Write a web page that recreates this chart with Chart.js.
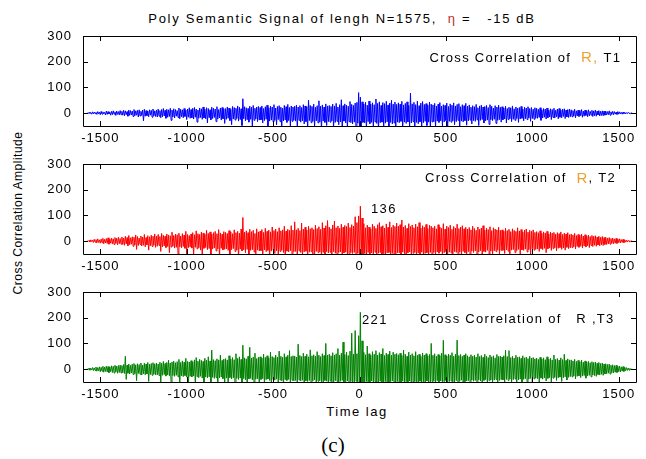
<!DOCTYPE html>
<html>
<head>
<meta charset="utf-8">
<title>Cross Correlation</title>
<script src="https://cdn.jsdelivr.net/npm/chart.js@4.4.1/dist/chart.umd.min.js"></script>
<style>
    body {
        margin: 0;
        width: 646px;
        height: 459px;
        position: relative;
        overflow: hidden;
        background: #fff;
        font-family: 'Liberation Sans', Arial, sans-serif;
        color: #000;
    }
    .panel { position: absolute; left: 0; }
    .txt { position: absolute; white-space: pre; line-height: 14px; }
    #title { left: 342px; top: 12px; font-size: 13px; letter-spacing: 1.7px; transform: translateX(-50%); }
    #title .eta { color: #c0302a; }
    #ylabel { left: 18px; top: 213px; font-size: 12px; letter-spacing: 0.5px; transform: translate(-50%, -50%) rotate(-90deg); }
    #xlabel { left: 357px; top: 405px; font-size: 13px; letter-spacing: 1.5px; transform: translateX(-50%); }
    #caption { left: 333px; top: 433px; font-size: 21px; line-height: 24px; font-family: 'Liberation Serif', 'Times New Roman', serif; transform: translateX(-50%); }
</style>
</head>
<body>

<div id="title" class="txt">Poly Semantic Signal of lengh N=1575,  <span class="eta">η</span> =   -15 dB</div>
<div id="ylabel" class="txt">Cross Correlation Amplitude</div>
<div id="xlabel" class="txt">Time lag</div>
<div id="caption" class="txt">(c)</div>

<canvas id="chart1" class="panel" width="646" height="150" style="top:0px"></canvas>
<canvas id="chart2" class="panel" width="646" height="150" style="top:128px"></canvas>
<canvas id="chart3" class="panel" width="646" height="150" style="top:256px"></canvas>

<script>
// Lag bins (step 10). Each bin holds the top and the bottom reading of the trace in it.
const lags = Array.from({length: 316}, (_, i) => -1575 + i * 10);

const xTicks = [-1500, -1000, -500, 0, 500, 1000, 1500];
const yTicks = [0, 100, 200, 300];

// T1 (blue)
const t1High = [
    1, 3, 2, 5, 4, 3, 6, 4, 7, 5, 3, 8, 6, 4, 7, 9, 5, 8, 6, 10,
    7, 11, 9, 6, 12, 10, 8, 14, 9, 11, 13, 7, 12, 15, 10, 8, 13, 11, 16, 9,
    12, 16, 10, 14, 18, 11, 15, 13, 19, 12, 17, 14, 10, 20, 15, 13, 18, 12, 16, 21,
    14, 19, 22, 16, 12, 20, 17, 24, 15, 21, 18, 13, 23, 19, 16, 25, 14, 20, 22, 17,
    18, 24, 20, 15, 26, 22, 19, 28, 23, 17, 56, 25, 21, 18, 27, 23, 30, 19, 24, 26,
    22, 28, 18, 25, 31, 21, 27, 24, 33, 20, 26, 29, 23, 19, 30, 25, 34, 22, 28, 24,
    27, 31, 24, 29, 22, 33, 28, 25, 50, 30, 26, 35, 23, 29, 48, 27, 32, 24, 36, 28,
    30, 26, 35, 28, 38, 24, 33, 52, 29, 36, 31, 27, 45, 34, 30, 39, 42, 80, 62, 44,
    36, 42, 31, 47, 35, 40, 33, 55, 38, 44, 30, 41, 37, 46, 32, 39, 50, 35, 43, 34,
    40, 35, 46, 32, 38, 44, 30, 78, 36, 42, 33, 47, 29, 39, 45, 34, 37, 31, 43, 35,
    32, 38, 28, 35, 41, 27, 33, 30, 39, 26, 36, 31, 40, 28, 34, 37, 25, 33, 29, 38,
    27, 32, 23, 29, 25, 34, 21, 28, 31, 24, 26, 30, 22, 33, 27, 20, 29, 24, 31, 23,
    25, 20, 27, 18, 23, 21, 28, 17, 24, 19, 22, 26, 16, 23, 20, 25, 18, 22, 15, 21,
    19, 15, 21, 13, 18, 16, 20, 12, 17, 14, 19, 11, 16, 18, 13, 15, 17, 12, 14, 16,
    13, 10, 15, 9, 12, 11, 14, 8, 12, 10, 13, 7, 11, 9, 12, 8, 10, 7, 9, 8,
    8, 6, 9, 5, 7, 6, 4, 6, 5, 3, 4, 3, 2, 3, 1, 1
];
const t1Low = [
    -2, -1, -4, -3, -2, -5, -3, -6, -4, -2, -7, -5, -3, -8, -6, -4, -9, -5, -7, -6,
    -8, -10, -6, -12, -9, -7, -13, -10, -8, -15, -11, -9, -30, -12, -10, -14, -8, -16, -11, -13,
    -15, -12, -18, -14, -11, -20, -16, -13, -28, -15, -19, -12, -17, -22, -14, -18, -13, -25, -16, -20,
    -18, -23, -16, -35, -20, -17, -24, -19, -22, -38, -18, -26, -21, -17, -33, -23, -19, -27, -22, -40,
    -24, -20, -29, -45, -23, -27, -21, -31, -25, -48, -22, -30, -26, -35, -24, -52, -28, -23, -33, -27,
    -26, -38, -29, -24, -55, -31, -27, -34, -28, -46, -25, -33, -58, -30, -27, -36, -29, -50, -32, -28,
    -31, -60, -28, -35, -30, -42, -33, -62, -29, -37, -32, -55, -30, -38, -34, -64, -31, -36, -48, -33,
    -35, -30, -58, -36, -32, -45, -34, -66, -31, -38, -60, -33, -37, -42, -35, -70, -39, -62, -50, -36,
    -38, -63, -33, -41, -36, -58, -34, -40, -68, -37, -35, -52, -39, -34, -65, -36, -42, -38, -56, -35,
    -37, -32, -60, -35, -40, -34, -55, -38, -33, -66, -36, -41, -34, -58, -37, -32, -48, -35, -62, -34,
    -33, -55, -31, -36, -30, -50, -34, -29, -58, -32, -35, -30, -45, -33, -28, -52, -31, -34, -29, -47,
    -30, -27, -42, -29, -32, -26, -48, -28, -25, -38, -30, -27, -44, -26, -29, -24, -40, -28, -25, -35,
    -26, -23, -38, -25, -22, -33, -24, -28, -21, -36, -23, -20, -30, -22, -25, -19, -32, -21, -24, -20,
    -20, -17, -28, -19, -16, -23, -18, -15, -25, -17, -19, -14, -22, -16, -18, -13, -21, -15, -17, -14,
    -14, -12, -18, -11, -13, -10, -16, -12, -9, -14, -11, -8, -13, -10, -12, -7, -11, -9, -10, -8,
    -7, -6, -8, -5, -6, -4, -5, -4, -3, -4, -2, -3, -2, -1, -2, -1
];

// T2 (red)
const t2High = [
    1, 3, 5, 4, 7, 6, 9, 5, 8, 11, 7, 10, 13, 8, 12, 9, 14, 11, 15, 10,
    16, 12, 19, 14, 22, 13, 17, 15, 24, 18, 12, 20, 16, 26, 14, 21, 17, 23, 19, 28,
    20, 26, 18, 30, 23, 19, 28, 24, 21, 35, 22, 27, 25, 31, 20, 29, 24, 38, 26, 22,
    28, 33, 25, 40, 29, 26, 35, 31, 27, 42, 30, 36, 28, 33, 38, 29, 45, 32, 27, 37,
    34, 30, 41, 36, 29, 44, 33, 38, 31, 47, 92, 35, 40, 33, 46, 37, 42, 30, 48, 36,
    39, 45, 34, 50, 38, 43, 36, 55, 41, 47, 37, 52, 40, 44, 58, 39, 46, 42, 60, 43,
    75, 44, 50, 41, 70, 47, 54, 43, 58, 48, 52, 45, 62, 49, 56, 46, 72, 51, 60, 80,
    55, 48, 63, 78, 52, 59, 50, 66, 54, 61, 57, 70, 53, 64, 58, 95, 72, 98, 136, 90,
    68, 52, 62, 55, 48, 66, 58, 50, 64, 72, 56, 60, 51, 67, 54, 75, 53, 62, 57, 70,
    58, 64, 82, 55, 61, 50, 68, 57, 63, 52, 66, 56, 72, 51, 60, 54, 65, 49, 62, 58,
    52, 59, 48, 64, 55, 50, 68, 47, 58, 53, 62, 46, 57, 51, 66, 49, 55, 60, 48, 54,
    47, 53, 44, 58, 49, 42, 55, 46, 51, 60, 43, 50, 45, 56, 41, 52, 47, 44, 54, 42,
    44, 39, 50, 41, 46, 37, 48, 42, 38, 52, 40, 45, 36, 43, 47, 35, 42, 38, 44, 34,
    37, 33, 40, 30, 36, 32, 38, 28, 35, 31, 34, 27, 33, 29, 36, 26, 31, 28, 33, 25,
    28, 24, 30, 22, 26, 23, 27, 20, 25, 21, 23, 18, 22, 19, 21, 16, 19, 15, 18, 14,
    15, 12, 14, 10, 12, 9, 11, 8, 9, 6, 7, 5, 4, 3, 2, 1
];
const t2Low = [
    -1, -3, -2, -5, -4, -7, -5, -8, -6, -10, -7, -9, -12, -8, -11, -13, -9, -14, -10, -12,
    -13, -16, -11, -18, -14, -12, -20, -15, -32, -17, -13, -19, -16, -22, -14, -35, -18, -21, -16, -24,
    -20, -17, -40, -22, -19, -25, -21, -45, -23, -20, -27, -24, -50, -22, -26, -21, -28, -55, -25, -23,
    -27, -58, -24, -30, -26, -35, -62, -28, -25, -33, -29, -60, -31, -27, -38, -30, -65, -28, -34, -32,
    -30, -36, -64, -33, -29, -40, -35, -68, -31, -38, -34, -45, -32, -70, -36, -33, -42, -60, -35, -38,
    -37, -66, -34, -41, -36, -72, -39, -35, -48, -38, -62, -40, -36, -44, -75, -39, -42, -37, -65, -41,
    -40, -70, -38, -44, -62, -42, -39, -76, -43, -41, -50, -68, -40, -45, -42, -72, -44, -60, -41, -46,
    -43, -74, -41, -47, -65, -44, -42, -78, -46, -43, -55, -70, -45, -48, -44, -80, -47, -62, -58, -50,
    -48, -72, -44, -50, -46, -68, -43, -75, -47, -45, -60, -49, -70, -46, -44, -78, -48, -52, -66, -45,
    -46, -68, -43, -49, -72, -45, -42, -64, -47, -44, -76, -46, -50, -43, -66, -48, -45, -58, -44, -70,
    -44, -62, -42, -47, -41, -68, -45, -40, -58, -43, -46, -72, -41, -44, -55, -42, -65, -40, -45, -52,
    -41, -60, -39, -44, -38, -55, -42, -37, -64, -40, -43, -36, -50, -39, -58, -38, -41, -35, -52, -37,
    -36, -48, -34, -39, -56, -35, -33, -45, -37, -32, -52, -34, -36, -31, -42, -33, -58, -30, -35, -32,
    -31, -40, -29, -33, -28, -45, -30, -27, -36, -29, -26, -38, -28, -25, -32, -27, -35, -24, -29, -26,
    -25, -22, -30, -21, -24, -20, -27, -19, -23, -18, -25, -17, -21, -16, -20, -15, -18, -14, -17, -13,
    -13, -11, -12, -9, -10, -8, -9, -6, -7, -5, -6, -4, -3, -2, -2, -1
];

// T3 (green)
const t3High = [
    2, 4, 3, 6, 5, 8, 6, 9, 7, 11, 8, 12, 10, 9, 13, 11, 15, 12, 14, 16,
    14, 18, 50, 16, 20, 15, 19, 22, 17, 21, 18, 24, 16, 23, 20, 26, 19, 22, 25, 21,
    24, 20, 27, 23, 30, 22, 26, 35, 24, 28, 31, 25, 29, 38, 26, 32, 27, 42, 30, 28,
    33, 29, 36, 45, 31, 38, 34, 30, 42, 35, 48, 32, 74, 37, 33, 40, 36, 55, 34, 39,
    41, 36, 52, 39, 45, 37, 60, 42, 48, 38, 93, 44, 40, 50, 85, 43, 47, 62, 41, 46,
    48, 43, 58, 46, 52, 44, 66, 49, 45, 55, 47, 70, 50, 46, 60, 48, 54, 72, 49, 52,
    51, 47, 97, 53, 49, 62, 50, 58, 48, 75, 52, 56, 50, 68, 54, 49, 60, 53, 100, 55,
    58, 52, 64, 55, 60, 80, 54, 62, 105, 57, 66, 53, 70, 140, 58, 150, 60, 130, 221, 110,
    65, 56, 90, 60, 54, 68, 58, 72, 55, 64, 59, 80, 53, 62, 57, 70, 54, 66, 58, 61,
    56, 62, 53, 74, 58, 50, 66, 55, 60, 52, 68, 54, 58, 50, 63, 55, 60, 52, 57, 100,
    54, 60, 50, 57, 53, 62, 112, 56, 51, 59, 54, 64, 50, 58, 113, 53, 57, 50, 55, 60,
    52, 48, 56, 50, 54, 47, 60, 49, 53, 46, 58, 50, 45, 55, 48, 52, 44, 57, 49, 51,
    47, 52, 74, 49, 72, 45, 50, 43, 54, 46, 48, 42, 52, 44, 47, 41, 50, 43, 45, 40,
    43, 38, 46, 40, 44, 37, 48, 39, 42, 36, 55, 38, 41, 35, 44, 37, 58, 34, 40, 36,
    36, 32, 38, 30, 34, 29, 35, 27, 32, 28, 30, 25, 29, 26, 28, 23, 26, 22, 24, 20,
    21, 18, 20, 15, 17, 14, 15, 11, 12, 9, 10, 7, 6, 4, 3, 1
];
const t3Low = [
    -2, -4, -3, -6, -5, -8, -7, -10, -8, -12, -9, -11, -14, -10, -13, -15, -11, -16, -13, -15,
    -14, -17, -40, -16, -19, -15, -21, -18, -45, -17, -20, -23, -18, -22, -19, -48, -21, -24, -20, -23,
    -22, -25, -50, -24, -21, -27, -23, -26, -55, -25, -28, -24, -30, -58, -26, -29, -25, -31, -60, -28,
    -30, -27, -62, -29, -33, -28, -35, -64, -31, -34, -30, -58, -32, -36, -33, -68, -34, -31, -37, -60,
    -35, -66, -33, -38, -34, -70, -36, -40, -35, -62, -37, -41, -72, -38, -36, -42, -65, -39, -37, -74,
    -40, -37, -68, -41, -38, -44, -76, -40, -43, -39, -66, -42, -45, -78, -41, -44, -40, -70, -43, -46,
    -44, -72, -42, -46, -43, -80, -45, -48, -44, -68, -46, -42, -75, -47, -45, -49, -78, -44, -47, -70,
    -46, -50, -76, -45, -48, -82, -47, -44, -70, -49, -46, -80, -48, -51, -74, -47, -85, -50, -78, -60,
    -52, -48, -80, -50, -46, -74, -49, -52, -78, -47, -50, -70, -48, -53, -82, -49, -46, -72, -51, -48,
    -50, -76, -47, -52, -49, -70, -46, -80, -50, -48, -73, -51, -47, -66, -49, -78, -46, -52, -71, -48,
    -47, -72, -45, -50, -46, -68, -49, -44, -75, -48, -46, -64, -50, -45, -70, -47, -43, -66, -49, -46,
    -45, -62, -43, -47, -44, -68, -42, -46, -58, -44, -41, -65, -45, -42, -60, -43, -40, -56, -44, -41,
    -42, -58, -40, -44, -39, -62, -41, -38, -54, -42, -39, -50, -40, -37, -56, -39, -36, -52, -38, -35,
    -37, -50, -35, -39, -34, -46, -36, -33, -52, -35, -32, -44, -34, -31, -48, -33, -30, -42, -32, -29,
    -30, -27, -38, -28, -26, -33, -27, -25, -35, -26, -24, -30, -23, -25, -28, -21, -23, -20, -24, -19,
    -18, -16, -19, -14, -15, -12, -13, -10, -11, -8, -9, -6, -5, -4, -3, -1
];

const ORANGE = '#f0a030';
const FONT = '"Liberation Sans", Arial, sans-serif';

[t1High, t1Low, t2High, t2Low, t3High, t3Low].forEach((arr, k) => {
    if (arr.length !== lags.length) throw new Error('series ' + k + ' has ' + arr.length + ' values');
});

// Box, inward tick marks and in-plot notes, MATLAB style
const framePlugin = {
    id: 'frame',
    beforeDraw(chart) {
        chart.ctx.letterSpacing = '1px';
    },
    afterDraw(chart, args, opts) {
        const ctx = chart.ctx;
        const a = chart.chartArea;
        const x = chart.scales.x, y = chart.scales.y;
        ctx.save();
        ctx.strokeStyle = '#000';
        ctx.lineWidth = 1;
        ctx.beginPath();
        ctx.rect(Math.round(a.left) + 0.5, Math.round(a.top) + 0.5, Math.round(a.width), Math.round(a.height));
        xTicks.forEach(v => {
            const px = Math.round(x.getPixelForValue(v)) + 0.5;
            ctx.moveTo(px, a.bottom); ctx.lineTo(px, a.bottom - 5);
            ctx.moveTo(px, a.top); ctx.lineTo(px, a.top + 5);
        });
        yTicks.forEach(v => {
            const py = Math.round(y.getPixelForValue(v)) + 0.5;
            ctx.moveTo(a.left, py); ctx.lineTo(a.left + 5, py);
            ctx.moveTo(a.right, py); ctx.lineTo(a.right - 5, py);
        });
        ctx.stroke();

        ctx.letterSpacing = '1.3px';
        ctx.textBaseline = 'middle';
        ctx.textAlign = 'left';
        (opts.notes || []).forEach(note => {
            let px = x.getPixelForValue(note.x);
            const py = y.getPixelForValue(note.y);
            note.parts.forEach(p => {
                ctx.font = (p.size || 13) + 'px ' + FONT;
                ctx.fillStyle = p.color || '#000';
                ctx.fillText(p.text, px, py);
                px += ctx.measureText(p.text).width;
            });
        });
        ctx.restore();
    }
};

function makePanel(id, high, low, color, notes) {
    const points = [];
    lags.forEach((lag, i) => {
        points.push({x: lag, y: high[i]});
        points.push({x: lag + 5, y: low[i]});
    });

    const tickFont = {family: FONT, size: 13};

    new Chart(document.getElementById(id), {
        type: 'line',
        data: {
            datasets: [{
                data: points,
                borderColor: color,
                borderWidth: 1,
                pointRadius: 0,
                tension: 0,
                fill: false
            }]
        },
        options: {
            responsive: false,
            animation: false,
            events: [],
            layout: {padding: {top: 36, right: 10, left: 0, bottom: 0}},
            plugins: {
                legend: {display: false},
                tooltip: {enabled: false},
                frame: {notes: notes}
            },
            scales: {
                x: {
                    type: 'linear',
                    min: -1600,
                    max: 1600,
                    grid: {display: false, drawTicks: false},
                    border: {display: false},
                    ticks: {font: tickFont, color: '#000', padding: 5, maxRotation: 0, callback: v => String(v)},
                    afterBuildTicks: s => { s.ticks = xTicks.map(v => ({value: v})); },
                    afterFit: s => { s.height = 24; }
                },
                y: {
                    min: -50,
                    max: 300,
                    grid: {display: false, drawTicks: false},
                    border: {display: false},
                    ticks: {font: tickFont, color: '#000', padding: 11, callback: v => String(v)},
                    afterBuildTicks: s => { s.ticks = yTicks.map(v => ({value: v})); },
                    afterFit: s => { s.width = 83; }
                }
            }
        },
        plugins: [framePlugin]
    });
}

makePanel('chart1', t1High, t1Low, '#0000ff', [
    {x: 405, y: 214, parts: [{text: 'Cross Correlation of  '}, {text: 'R,', color: ORANGE, size: 15}, {text: ' T1'}]}
]);
makePanel('chart2', t2High, t2Low, '#ff0000', [
    {x: 379, y: 243, parts: [{text: 'Cross Correlation of  '}, {text: 'R', color: ORANGE, size: 15}, {text: ', T2'}]},
    {x: 67, y: 123, parts: [{text: '136'}]}
]);
makePanel('chart3', t3High, t3Low, '#008000', [
    {x: 15, y: 191, parts: [{text: '221'}]},
    {x: 350, y: 195, parts: [{text: 'Cross Correlation of   R ,T3'}]}
]);
</script>
</body>
</html>
